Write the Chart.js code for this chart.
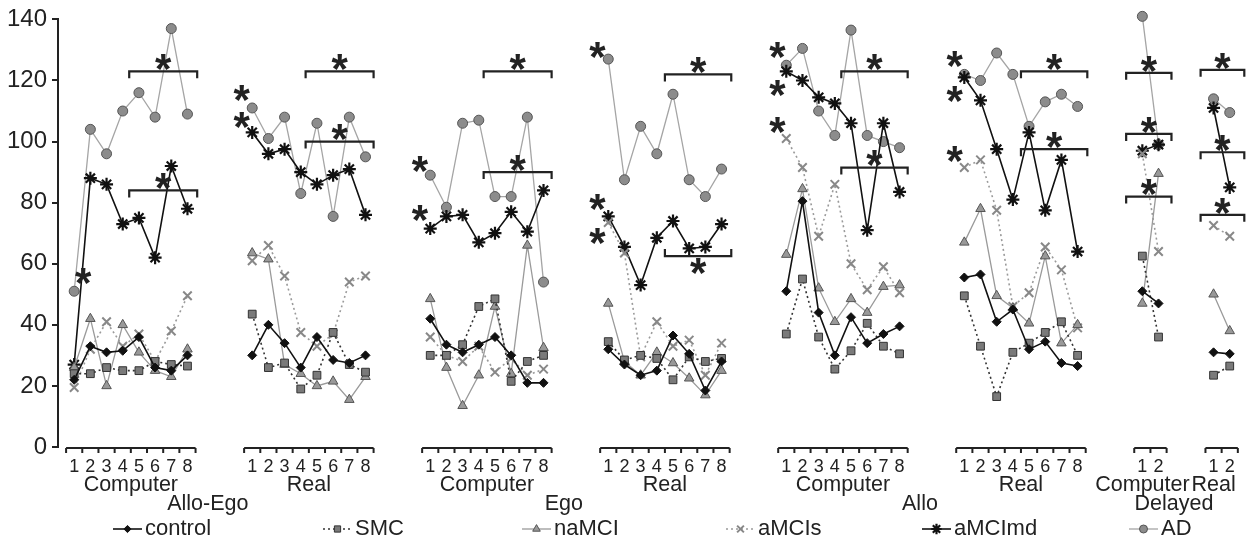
<!DOCTYPE html>
<html>
<head>
<meta charset="utf-8">
<script src="https://cdn.jsdelivr.net/npm/chart.js@4.4.1/dist/chart.umd.min.js"></script>
<style>
  body { margin: 0; background: #fff; }
</style>
</head>
<body>
<canvas id="memoryChart" width="1253" height="539"></canvas>
<script>
// x axis groups
const groupNames = ['Computer', 'Real', 'Computer', 'Real', 'Computer', 'Real', 'Computer', 'Real'];
const domainNames = ['Allo-Ego', 'Ego', 'Allo', 'Delayed'];
const groupStart = [1, 12, 23, 34, 45, 56, 67, 71.4];
const yTicks = [0, 20, 40, 60, 80, 100, 120, 140];

// one array per group: Allo-Ego C, Allo-Ego R, Ego C, Ego R, Allo C, Allo R, Delayed C, Delayed R
const control = [
  [22, 33, 31, 31.5, 36, 26, 25, 30],
  [30, 40, 34, 26, 36, 28.5, 27.5, 30],
  [42, 33.5, 31, 33.5, 36, 30, 21, 21],
  [32, 27, 23.5, 25, 36.5, 30.5, 18.5, 28],
  [51, 80.5, 44, 30, 42.5, 34, 37, 39.5],
  [55.5, 56.5, 41, 45, 32, 34.5, 27.5, 26.5],
  [51, 47],
  [31, 30.5]
];
const smc = [
  [24, 24, 26, 25, 25, 28, 27, 26.5],
  [43.5, 26, 27.5, 19, 23.5, 37.5, 27, 24.5],
  [30, 30, 33.5, 46, 48.5, 21.5, 28, 30],
  [34.5, 28.5, 30, 29, 22, 29.5, 28, 29],
  [37, 55, 36, 25.5, 31.5, 40.5, 33, 30.5],
  [49.5, 33, 16.5, 31, 34, 37.5, 41, 30],
  [62.5, 36],
  [23.5, 26.5]
];
const namci = [
  [26, 42, 20, 40, 31, 25, 23, 32],
  [63.5, 61.5, 27, 24, 20, 21.5, 15.5, 23],
  [48.5, 26, 13.5, 23.5, 46, 24, 66, 32.5],
  [47, 28, 23.5, 31, 27.5, 22.5, 17, 25],
  [63, 84.5, 52, 41, 48.5, 44, 52.5, 53],
  [67, 78, 49.5, 45.5, 40.5, 62.5, 34, 40],
  [47, 89.5],
  [50, 38]
];
const amcis = [
  [19.5, 32, 41, 33, 37, 28, 38, 49.5],
  [61, 66, 56, 37.5, 33, 37, 54, 56],
  [36, 30, 28, 33, 24.5, 29, 23.5, 25.5],
  [73.5, 63.5, 29.5, 41, 33, 35, 23.5, 34],
  [101, 91.5, 69, 86, 60, 51.5, 59, 50.5],
  [91.5, 94, 77.5, 46, 50.5, 65.5, 58, 39],
  [96, 64],
  [72.5, 69]
];
const amcimd = [
  [27, 88, 86, 73, 75, 62, 92, 78],
  [103, 96, 97.5, 90, 86, 89, 91, 76],
  [71.5, 75.5, 76, 67, 70, 77, 70.5, 84],
  [75.5, 65.5, 53, 68.5, 74, 65, 65.5, 73],
  [123, 120, 114.5, 112.5, 106, 71, 106, 83.5],
  [121, 113.5, 97.5, 81, 103, 77.5, 94, 64],
  [97, 99],
  [111, 85]
];
const ad = [
  [51, 104, 96, 110, 116, 108, 137, 109],
  [111, 101, 108, 83, 106, 75.5, 108, 95],
  [89, 78.5, 106, 107, 82, 82, 108, 54],
  [127, 87.5, 105, 96, 115.5, 87.5, 82, 91],
  [125, 130.5, 110, 102, 136.5, 102, 100, 98],
  [122, 120, 129, 122, 105, 113, 115.5, 111.5],
  [141, 99],
  [114, 109.5]
];

// significance brackets: group, from point, to point, y value, flipped
const brackets = [
  [0, 4.4, 8.6, 123, false], [0, 4.4, 8.6, 84, false],
  [1, 4.3, 8.5, 123, false], [1, 4.3, 8.5, 100, false],
  [2, 4.3, 8.5, 123, false], [2, 4.3, 8.5, 90, false],
  [3, 4.5, 8.6, 122, false], [3, 4.5, 8.6, 62.5, true],
  [4, 4.4, 8.5, 123, false], [4, 4.4, 8.5, 91.5, false],
  [5, 4.5, 8.6, 123, false], [5, 4.5, 8.6, 97.5, false],
  [6, 0, 2.8, 122.5, false], [6, 0, 2.8, 102.5, false], [6, 0, 2.8, 82, false],
  [7, 0.2, 2.9, 123.5, false], [7, 0.2, 2.9, 96.5, false], [7, 0.2, 2.9, 76, false]
];
// loose significance stars: group, point, y value
const stars = [
  [0, 1.55, 56],
  [1, 0.35, 116], [1, 0.35, 107],
  [2, 0.37, 92.5], [2, 0.37, 76.5],
  [3, 0.33, 130], [3, 0.33, 80], [3, 0.33, 69],
  [4, 0.45, 130], [4, 0.45, 117.5], [4, 0.45, 105.5],
  [5, 0.4, 127], [5, 0.4, 115.5], [5, 0.4, 96]
];

const tickLabelMap = new Map();
groupStart.forEach((s, g) => {
  const n = g < 6 ? 8 : 2;
  for (let i = 0; i < n; i++) tickLabelMap.set((s + i).toFixed(2), String(i + 1));
});

function toPoints(series) {
  const pts = [];
  series.forEach((vals, g) => {
    vals.forEach((v, i) => pts.push({ x: groupStart[g] + i, y: v }));
    pts.push({ x: groupStart[g] + vals.length - 0.5, y: null });
  });
  return pts;
}

const FONT = "'Liberation Sans', Arial, Helvetica, sans-serif";
Chart.defaults.font.family = FONT;
Chart.defaults.color = '#222';

const datasets = [
  { label: 'control', data: toPoints(control), borderColor: '#111', borderWidth: 1.6,
    pointStyle: 'rectRot', pointRadius: 4.5, pointBackgroundColor: '#111', pointBorderColor: '#111', pointBorderWidth: 1 },
  { label: 'SMC', data: toPoints(smc), borderColor: '#333', borderWidth: 1.6, borderDash: [2, 3],
    pointStyle: 'rect', pointRadius: 5.5, pointBackgroundColor: '#7a7a7a', pointBorderColor: '#333', pointBorderWidth: 1 },
  { label: 'naMCI', data: toPoints(namci), borderColor: '#9a9a9a', borderWidth: 1.3,
    pointStyle: 'triangle', pointRadius: 5.5, pointBackgroundColor: '#999', pointBorderColor: '#555', pointBorderWidth: 1 },
  { label: 'aMCIs', data: toPoints(amcis), borderColor: '#9a9a9a', borderWidth: 1.6, borderDash: [2, 3],
    pointStyle: 'crossRot', pointRadius: 6, pointBackgroundColor: '#888', pointBorderColor: '#888', pointBorderWidth: 2 },
  { label: 'aMCImd', data: toPoints(amcimd), borderColor: '#111', borderWidth: 1.6,
    pointStyle: 'star', pointRadius: 6.5, pointBackgroundColor: '#111', pointBorderColor: '#111', pointBorderWidth: 2.2 },
  { label: 'AD', data: toPoints(ad), borderColor: '#a5a5a5', borderWidth: 1.3,
    pointStyle: 'circle', pointRadius: 5, pointBackgroundColor: '#8c8c8c', pointBorderColor: '#555', pointBorderWidth: 1 }
];
datasets.forEach(ds => { ds.clip = false; });

// group axes, labels, brackets, stars and legend
const decorations = {
  id: 'decorations',
  afterDraw(chart) {
    const ctx = chart.ctx;
    const xs = chart.scales.x, ys = chart.scales.y;
    const base = chart.chartArea.bottom + 1;
    ctx.save();
    ctx.strokeStyle = '#222';
    ctx.fillStyle = '#222';
    ctx.lineWidth = 2;

    // broken x axis, one piece per group
    groupStart.forEach((s, g) => {
      const n = g < 6 ? 8 : 2;
      const a = xs.getPixelForValue(s - 0.5), b = xs.getPixelForValue(s + n - 0.5);
      ctx.beginPath();
      ctx.moveTo(a, base); ctx.lineTo(b, base);
      for (let i = 0; i <= n; i++) {
        const t = xs.getPixelForValue(s - 0.5 + i);
        ctx.moveTo(t, base); ctx.lineTo(t, base + 5);
      }
      ctx.stroke();
    });

    const center = g => xs.getPixelForValue(groupStart[g] + ((g < 6 ? 8 : 2) - 1) / 2);
    ctx.textAlign = 'center';
    ctx.textBaseline = 'middle';
    ctx.font = '21.5px ' + FONT;
    groupNames.forEach((name, g) => ctx.fillText(name, center(g) - (g > 5 ? 8 : 0), 485));
    domainNames.forEach((name, d) => ctx.fillText(name, (center(2 * d) + center(2 * d + 1)) / 2 - 12, 504));

    // significance marks
    const starSize = 42;
    ctx.font = 'bold ' + starSize + 'px ' + FONT;
    const drawStar = (x, y) => ctx.fillText('*', x, y + 0.22 * starSize);
    ctx.lineWidth = 2.2;
    brackets.forEach(([g, from, to, v, flip]) => {
      const a = xs.getPixelForValue(groupStart[g] + from - 1);
      const b = xs.getPixelForValue(groupStart[g] + to - 1);
      const y = ys.getPixelForValue(v);
      const h = flip ? -7 : 7;
      ctx.beginPath();
      ctx.moveTo(a, y + h); ctx.lineTo(a, y); ctx.lineTo(b, y); ctx.lineTo(b, y + h);
      ctx.stroke();
      drawStar((a + b) / 2, flip ? y + 10 : y - 9);
    });
    stars.forEach(([g, p, v]) => drawStar(xs.getPixelForValue(groupStart[g] + p - 1), ys.getPixelForValue(v)));

    // legend: line + marker + name
    const legendX = [113, 323, 522, 726, 922, 1129];
    const ly = 529;
    ctx.font = '22px ' + FONT;
    ctx.textAlign = 'left';
    ctx.textBaseline = 'middle';
    chart.data.datasets.forEach((ds, i) => {
      const x0 = legendX[i];
      ctx.save();
      ctx.strokeStyle = ds.borderColor;
      ctx.lineWidth = ds.borderWidth;
      ctx.setLineDash(ds.borderDash || []);
      ctx.beginPath(); ctx.moveTo(x0, ly); ctx.lineTo(x0 + 29, ly); ctx.stroke();
      ctx.setLineDash([]);
      ctx.fillStyle = ds.pointBackgroundColor;
      ctx.strokeStyle = ds.pointBorderColor;
      ctx.lineWidth = ds.pointBorderWidth;
      Chart.helpers.drawPoint(ctx, { pointStyle: ds.pointStyle, radius: ds.pointRadius * 0.8, rotation: 0, borderWidth: ds.pointBorderWidth }, x0 + 14.5, ly);
      ctx.restore();
      ctx.fillText(ds.label, x0 + 32, ly);
    });
    ctx.restore();
  }
};

new Chart(document.getElementById('memoryChart').getContext('2d'), {
  type: 'line',
  data: { datasets },
  options: {
    responsive: false,
    animation: false,
    spanGaps: false,
    layout: { padding: { top: 12, right: 0, left: 0, bottom: 0 } },
    plugins: { legend: { display: false }, tooltip: { enabled: false } },
    scales: {
      x: {
        type: 'linear', min: 0, max: 73.3,
        grid: { display: false, drawTicks: false },
        border: { display: false },
        ticks: {
          autoSkip: false, maxRotation: 0, padding: 9, color: '#222',
          font: { size: 18 },
          callback: v => tickLabelMap.get(Number(v).toFixed(2)) || ''
        },
        afterBuildTicks: scale => {
          scale.ticks = [...tickLabelMap.keys()].map(k => ({ value: Number(k) }));
        },
        afterFit: scale => { scale.height = 92; }
      },
      y: {
        min: 0, max: 140,
        grid: { drawOnChartArea: false, drawTicks: true, tickLength: 6, color: '#222', lineWidth: 2 },
        border: { color: '#222', width: 2 },
        ticks: { stepSize: 20, padding: 5, color: '#222', font: { size: 24 } },
        afterBuildTicks: scale => { scale.ticks = yTicks.map(v => ({ value: v })); },
        afterFit: scale => { scale.width = 58; }
      }
    }
  },
  plugins: [decorations]
});
</script>
</body>
</html>
